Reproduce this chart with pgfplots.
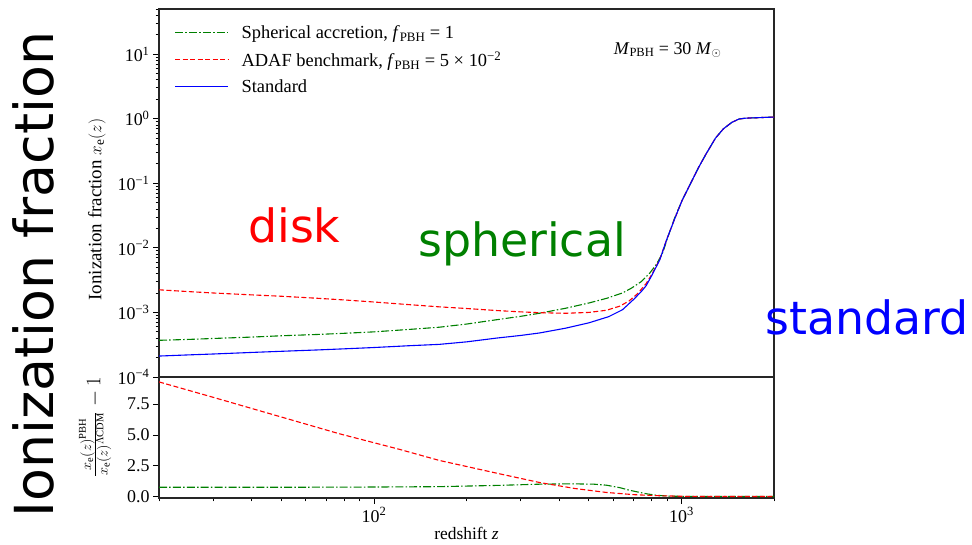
\documentclass[border=0pt]{standalone}
\usepackage{pgfplots}
\pgfplotsset{compat=1.18}
\usepackage{fontspec}
\setmainfont{Liberation Serif}
\newfontfamily\comic{DejaVu Sans}
\definecolor{mplgreen}{rgb}{0,0.5,0}
\definecolor{mplred}{rgb}{1,0,0}
\definecolor{mplblue}{rgb}{0,0,1}
\begin{document}
\begin{tikzpicture}[x=1bp,y=1bp]
\useasboundingbox (0,0) rectangle (972,545);
\pgfplotsset{
  every tick label/.append style={font=\fontsize{18}{20}\selectfont},
  /pgf/number format/assume math mode=true,
  major tick length=6bp, minor tick length=3.5bp,
  every tick/.style={black, line width=0.8bp},
  axis line style={line width=1.1bp, black!85},
  tick align=outside,
}
% ---------------- top panel ----------------
\begin{axis}[
  at={(159bp,168bp)}, anchor=south west, scale only axis,
  width=615bp, height=368bp,
  xmode=log, ymode=log, xmin=20, xmax=2000, ymin=1e-4, ymax=50,
  xtick=\empty, minor xtick={},
  ytick={1e-4,1e-3,1e-2,1e-1,1,10},
  yticklabels={10\textsuperscript{−4},10\textsuperscript{−3},10\textsuperscript{−2},10\textsuperscript{−1},10\textsuperscript{0},10\textsuperscript{1}},
  minor ytick={2e-4,3e-4,4e-4,5e-4,6e-4,7e-4,8e-4,9e-4,2e-3,3e-3,4e-3,5e-3,6e-3,7e-3,8e-3,9e-3,2e-2,3e-2,4e-2,5e-2,6e-2,7e-2,8e-2,9e-2,0.2,0.3,0.4,0.5,0.6,0.7,0.8,0.9,2,3,4,5,6,7,8,9,20,30,40,50},
  ytick pos=left,
  ylabel={Ionization fraction $x_{\rm e}(z)$},
  ylabel style={at={(axis description cs:-0.101,0.455)}, anchor=center, font=\fontsize{19}{21}\selectfont},
  legend style={at={(axis description cs:0.02,0.966)}, anchor=north west, draw=none, fill=none,
    font=\fontsize{18.5}{20}\selectfont, row sep=7.5bp, legend cell align=left,
    nodes={text=black}},
  legend image code/.code={\draw[#1] (0bp,0bp) -- (53bp,0bp);},
]
\addplot[draw=mplgreen, line width=1.1bp, dash pattern=on 8bp off 2.2bp on 1.5bp off 2.2bp] coordinates {
(20,3.7e-4)(25,3.82e-4)(30,3.95e-4)(40,4.15e-4)(50,4.35e-4)(65,4.55e-4)(80,4.75e-4)(100,5.0e-4)(130,5.45e-4)(163,5.9e-4)(200,6.6e-4)(250,7.7e-4)(300,8.7e-4)(345,9.7e-4)(420,1.16e-3)(500,1.4e-3)(570,1.65e-3)(643,2.0e-3)(690,2.4e-3)(740,3.0e-3)(790,4.1e-3)(830,5.6e-3)(870,8.5e-3)(900,1.4e-2)(950,2.9e-2)(1006,5.5e-2)(1060,9e-2)(1140,0.18)(1200,0.28)(1290,0.5)(1370,0.7)(1460,0.88)(1540,0.99)(1620,1.02)(1800,1.04)(2000,1.06)
};
\addlegendentry{\hspace{11bp}Spherical accretion, \textit{f}\textsubscript{PBH} = 1}
\addplot[draw=mplred, line width=1.1bp, dash pattern=on 5bp off 2.5bp] coordinates {
(20,2.24e-3)(25,2.1e-3)(30,2.0e-3)(40,1.87e-3)(50,1.78e-3)(65,1.66e-3)(80,1.56e-3)(100,1.45e-3)(130,1.32e-3)(163,1.22e-3)(200,1.15e-3)(250,1.07e-3)(300,1.02e-3)(345,9.9e-4)(420,9.7e-4)(500,1.0e-3)(570,1.08e-3)(630,1.25e-3)(675,1.5e-3)(720,1.95e-3)(768,2.8e-3)(800,3.85e-3)(850,6.6e-3)(893,1.3e-2)(950,2.8e-2)(1006,5.5e-2)(1060,9e-2)(1140,0.18)(1200,0.28)(1290,0.5)(1370,0.7)(1460,0.88)(1540,0.99)(1620,1.02)(1800,1.04)(2000,1.06)
};
\addlegendentry{\hspace{11bp}ADAF benchmark, \textit{f}\textsubscript{PBH} = 5 × 10\textsuperscript{−2}}
\addplot[draw=mplblue, line width=1.1bp] coordinates {
(20,2.11e-4)(25,2.2e-4)(30,2.27e-4)(40,2.4e-4)(50,2.5e-4)(65,2.62e-4)(80,2.73e-4)(100,2.86e-4)(130,3.05e-4)(163,3.2e-4)(200,3.5e-4)(250,4.0e-4)(300,4.4e-4)(345,4.8e-4)(420,5.7e-4)(500,6.9e-4)(580,8.6e-4)(643,1.1e-3)(700,1.6e-3)(740,2.1e-3)(768,2.6e-3)(800,3.7e-3)(850,6.5e-3)(893,1.3e-2)(950,2.8e-2)(1006,5.5e-2)(1060,9e-2)(1140,0.18)(1200,0.28)(1290,0.5)(1370,0.7)(1460,0.88)(1540,0.99)(1620,1.02)(1800,1.04)(2000,1.06)
};
\addlegendentry{\hspace{11bp}Standard}
\node[font=\fontsize{18}{20}\selectfont] at (rel axis cs:0.827,0.889) {\textit{M}\textsubscript{PBH} = 30 \textit{M}$_\odot$};
\end{axis}
% ---------------- bottom panel ----------------
\begin{axis}[
  at={(159bp,47bp)}, anchor=south west, scale only axis,
  width=615bp, height=121bp,
  xmode=log, xmin=20, xmax=2000, ymin=-0.12, ymax=9.7,
  xtick={100,1000}, xticklabels={10\textsuperscript{2},10\textsuperscript{3}},
  minor xtick={20,30,40,50,60,70,80,90,200,300,400,500,600,700,800,900,2000},
  ytick={0,2.5,5,7.5}, yticklabels={0.0,2.5,5.0,7.5},
  xtick pos=bottom, ytick pos=left,
  xlabel={redshift \textit{z}},
  xlabel style={at={(axis description cs:0.5,-0.29)}, anchor=center, font=\fontsize{17.5}{19}\selectfont},
  ylabel={$\frac{x_{\rm e}(z)^{\rm PBH}}{x_{\rm e}(z)^{\Lambda{\rm CDM}}}-1$},
  ylabel style={at={(axis description cs:-0.104,0.587)}, anchor=center, font=\fontsize{21}{23}\selectfont},
]
\addplot[draw=mplgreen, line width=1.1bp, dash pattern=on 8bp off 2.2bp on 1.5bp off 2.2bp] coordinates {
(20,0.75)(50,0.75)(100,0.77)(163,0.8)(250,0.9)(345,1.0)(442,1.03)(520,1.0)(570,0.92)(630,0.72)(675,0.52)(720,0.37)(770,0.22)(830,0.1)(900,0.04)(1000,0.01)(1200,0)(2000,0)
};
\addplot[draw=mplred, line width=1.1bp, dash pattern=on 5bp off 2.5bp] coordinates {
(20,9.3)(30,8.05)(50,6.45)(77,5.1)(121,3.83)(163,2.93)(250,1.9)(345,1.14)(450,0.65)(570,0.33)(700,0.15)(830,0.07)(1000,0.02)(1200,0)(2000,0)
};
\end{axis}
% ---------------- overlaid annotations ----------------
\node[anchor=base west, rotate=90, inner sep=0, font=\comic\fontsize{54}{60}\selectfont] at (53,27) {Ionization fraction};
\node[anchor=base west, inner sep=0, text=red, font=\comic\fontsize{46}{52}\selectfont] at (248,302) {disk};
\node[anchor=base west, inner sep=0, text=mplgreen, font=\comic\fontsize{46}{52}\selectfont] at (418,288) {spherical};
\node[anchor=base west, inner sep=0, text=blue, font=\comic\fontsize{46}{52}\selectfont] at (765,210) {standard};
\end{tikzpicture}
\end{document}
